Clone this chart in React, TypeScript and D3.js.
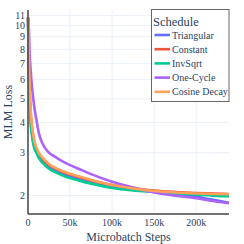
import React from "react";
import * as d3 from "d3";

const steps = [0, 1, 2, 3, 4, 6, 8, 10, 13, 16, 20, 25, 30, 40, 50, 60, 75, 100, 125, 150, 175, 200, 220, 239];
const triangular = [10.8, 6.8, 5.0, 4.15, 3.8, 3.38, 3.15, 3.03, 2.89, 2.8, 2.7, 2.61, 2.55, 2.46, 2.39, 2.34, 2.27, 2.18, 2.12, 2.08, 2.04, 1.98, 1.92, 1.87];
const constant = [10.8, 7.4, 5.4, 4.5, 4.05, 3.55, 3.28, 3.12, 2.97, 2.87, 2.77, 2.68, 2.61, 2.51, 2.44, 2.39, 2.31, 2.21, 2.15, 2.1, 2.07, 2.05, 2.04, 2.03];
const invSqrt = [10.8, 6.5, 4.8, 4.0, 3.7, 3.3, 3.1, 3.0, 2.85, 2.76, 2.67, 2.58, 2.52, 2.43, 2.36, 2.31, 2.24, 2.15, 2.1, 2.07, 2.04, 2.02, 2.0, 1.99];
const oneCycle = [10.8, 9.8, 7.6, 6.7, 6.0, 5.1, 4.5, 4.1, 3.6, 3.35, 3.15, 3.0, 2.92, 2.78, 2.67, 2.58, 2.45, 2.28, 2.16, 2.06, 2.0, 1.95, 1.9, 1.86];
const cosineDecay = [10.8, 7.5, 5.5, 4.6, 4.1, 3.6, 3.3, 3.15, 3.0, 2.9, 2.8, 2.7, 2.63, 2.53, 2.46, 2.4, 2.32, 2.21, 2.14, 2.09, 2.06, 2.04, 2.03, 2.025];

const seriesNames = ["Triangular", "Constant", "InvSqrt", "One-Cycle", "Cosine Decay"];
const seriesValues = [triangular, constant, invSqrt, oneCycle, cosineDecay];
const colors = ["#636efa", "#EF553B", "#00cc96", "#ab63fa", "#FFA15A"];

const yTicks = [2, 3, 4, 5, 6, 7, 8, 9, 10, 11];
const xTicks = [0, 50, 100, 150, 200];

const FONT = "'Liberation Serif', 'DejaVu Serif', serif";
const TXT = "#2a3f5f";

export default function App() {
  const left = 28, right = 229, top = 10, bottom = 214;
  const x = d3.scaleLinear().domain([0, 239]).range([left, right]);
  const y = d3.scaleLog().domain([1.68, 11.6]).range([bottom, top]);
  const line = d3.line<[number, number]>().x((d) => x(d[0])).y((d) => y(d[1])).curve(d3.curveMonotoneX);

  return (
    <svg width={244} height={244} style={{ position: "absolute", left: 0, top: 0, background: "#fff" }}>
      <rect x={0} y={0} width={244} height={244} fill="#fff" />
      {xTicks.map((t) => (
        <line key={"gx" + t} x1={x(t)} x2={x(t)} y1={top} y2={bottom} stroke="#ebf0f8" strokeWidth={1} />
      ))}
      {yTicks.map((t) => (
        <line key={"gy" + t} x1={left} x2={right} y1={y(t)} y2={y(t)} stroke="#ebf0f8" strokeWidth={1} />
      ))}
      {seriesValues.map((vals, i) => (
        <path
          key={seriesNames[i]}
          d={line(steps.map((s, j) => [s, vals[j]] as [number, number])) || ""}
          fill="none"
          stroke={colors[i]}
          strokeWidth={2.6}
          strokeLinejoin="round"
        />
      ))}
      <line x1={left} x2={left} y1={top} y2={bottom} stroke="#444" strokeWidth={1.5} />
      <line x1={left} x2={right} y1={bottom} y2={bottom} stroke="#444" strokeWidth={1.5} />
      {yTicks.map((t) => (
        <text key={"ty" + t} x={left - 3} y={y(t) + 3.5} textAnchor="end" fontFamily={FONT} fontSize={10} fill={TXT}>
          {t}
        </text>
      ))}
      {xTicks.map((t) => (
        <text key={"tx" + t} x={x(t)} y={226} textAnchor="middle" fontFamily={FONT} fontSize={10} fill={TXT}>
          {t === 0 ? "0" : t + "k"}
        </text>
      ))}
      <text x={(left + right) / 2} y={241} textAnchor="middle" fontFamily={FONT} fontSize={12} fill={TXT}>
        Microbatch Steps
      </text>
      <text
        transform={`translate(12,${(top + bottom) / 2}) rotate(-90)`}
        textAnchor="middle"
        fontFamily={FONT}
        fontSize={12}
        fill={TXT}
      >
        MLM Loss
      </text>
      <g>
        <rect x={151.5} y={9.5} width={77.5} height={92} fill="#fff" stroke="#666" strokeWidth={1} />
        <text x={153} y={26} fontFamily={FONT} fontSize={12.5} fill={TXT}>
          Schedule
        </text>
        {seriesNames.map((n, i) => {
          const cy = 35 + i * 14.2;
          return (
            <g key={"lg" + n}>
              <line x1={154.5} x2={170} y1={cy} y2={cy} stroke={colors[i]} strokeWidth={2.6} />
              <text x={172} y={cy + 3.5} fontFamily={FONT} fontSize={10} fill={TXT}>
                {n}
              </text>
            </g>
          );
        })}
      </g>
    </svg>
  );
}
